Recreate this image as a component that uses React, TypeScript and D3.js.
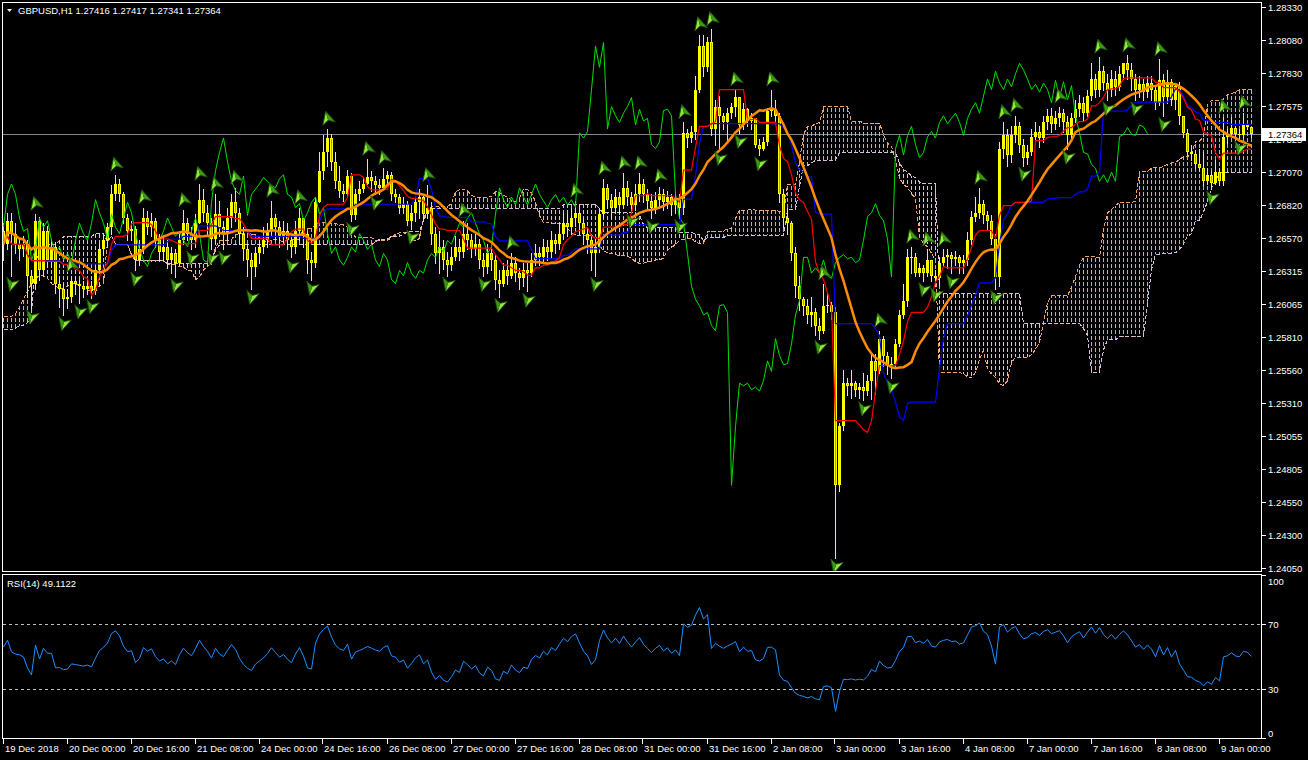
import React from 'react';
import * as d3 from 'd3';

const titleText = 'GBPUSD,H1  1.27416 1.27417 1.27341 1.27364';
const rsiTitle = 'RSI(14) 49.1122';
const lastPrice = 1.27364;
const firstOpen = 1.2662;

// hourly bars, 16 per row (one row per time label)
const closes = [
  1.2652, 1.2670, 1.2660, 1.2652, 1.2648, 1.2652, 1.2628, 1.2622, 1.2670, 1.2632, 1.2662, 1.2640, 1.2650, 1.2622, 1.2618, 1.2610,
  1.2612, 1.2624, 1.2622, 1.2620, 1.2618, 1.2620, 1.2616, 1.2632, 1.2648, 1.2655, 1.2665, 1.2690, 1.2698, 1.2690, 1.2672, 1.2662,
  1.2664, 1.2640, 1.2648, 1.2672, 1.2665, 1.2670, 1.2655, 1.2646, 1.2650, 1.2640, 1.2645, 1.2638, 1.2655, 1.2668, 1.2660, 1.2655,
  1.2668, 1.2686, 1.2676, 1.2668, 1.2656, 1.2675, 1.2665, 1.2660, 1.2672, 1.2684, 1.2676, 1.2660, 1.2648, 1.2640, 1.2635, 1.2645,
  1.2650, 1.2655, 1.2662, 1.2672, 1.2665, 1.2658, 1.2662, 1.2655, 1.2650, 1.2662, 1.2672, 1.2660, 1.2640, 1.2638, 1.2684, 1.2708,
  1.2722, 1.2733, 1.2715, 1.2700, 1.2693, 1.2690, 1.2704, 1.2674, 1.2690, 1.2694, 1.2698, 1.2703, 1.2700, 1.2697, 1.2695, 1.2702,
  1.2705, 1.2690, 1.2688, 1.2680, 1.2683, 1.2670, 1.2676, 1.2684, 1.2688, 1.2675, 1.2680, 1.2660, 1.2645, 1.2650, 1.2640, 1.2636,
  1.2642, 1.2650, 1.2646, 1.2660, 1.2655, 1.2648, 1.2652, 1.2640, 1.2635, 1.2645, 1.2640, 1.2625, 1.2622, 1.2632, 1.2628, 1.2638,
  1.2630, 1.2626, 1.2632, 1.2630, 1.2640, 1.2645, 1.2642, 1.2650, 1.2646, 1.2655, 1.2652, 1.2660, 1.2668, 1.2665, 1.2672, 1.2676,
  1.2668, 1.2660, 1.2655, 1.2645, 1.2650, 1.2675, 1.2695, 1.2686, 1.2680, 1.2688, 1.2682, 1.2695, 1.2688, 1.2682, 1.2690, 1.2698,
  1.2690, 1.2685, 1.2680, 1.2686, 1.2690, 1.2684, 1.2688, 1.2682, 1.2686, 1.2680, 1.2737, 1.2733, 1.2738, 1.2770, 1.2803, 1.2787,
  1.2806, 1.2740, 1.2757, 1.2750, 1.2745, 1.2752, 1.2757, 1.2764, 1.2743, 1.2755, 1.2746, 1.2748, 1.2728, 1.2725, 1.2730, 1.2754,
  1.2755, 1.2750, 1.2690, 1.2672, 1.2668, 1.2645, 1.2620, 1.2610, 1.2605, 1.2598, 1.2600, 1.2590, 1.2586, 1.2605, 1.2606, 1.2600,
  1.2468, 1.2513, 1.2546, 1.2544, 1.2546, 1.2541, 1.2543, 1.2540, 1.2548, 1.2563, 1.2555, 1.2580, 1.2567, 1.2560, 1.2561, 1.2576,
  1.2598, 1.2609, 1.2642, 1.2642, 1.2630, 1.2634, 1.2630, 1.2640, 1.2628, 1.2626, 1.2638, 1.2642, 1.2644, 1.2641, 1.2642, 1.2638,
  1.2640, 1.2655, 1.2673, 1.2676, 1.2683, 1.2674, 1.2670, 1.2656, 1.2627, 1.2725, 1.2735, 1.2720, 1.2735, 1.2742, 1.2728, 1.2718,
  1.2722, 1.2734, 1.2738, 1.2733, 1.2745, 1.2750, 1.2744, 1.2748, 1.2752, 1.2745, 1.2735, 1.2748, 1.2755, 1.2760, 1.2752, 1.2765,
  1.2778, 1.2770, 1.2784, 1.2775, 1.2770, 1.2778, 1.2772, 1.2782, 1.2790, 1.2785, 1.2778, 1.2770, 1.2774, 1.2768, 1.2775, 1.2770,
  1.2760, 1.2777, 1.2764, 1.2776, 1.2762, 1.2773, 1.2750, 1.2737, 1.2722, 1.2721, 1.2713, 1.2710, 1.2700, 1.2705, 1.2699, 1.2707,
  1.2700, 1.2734, 1.2736, 1.2741, 1.2736, 1.2735, 1.2743, 1.27416, 1.27364,
];

const highs = [
  1.2668, 1.2676, 1.2676, 1.2668, 1.2656, 1.2658, 1.2655, 1.2632, 1.2675, 1.2673, 1.2668, 1.2666, 1.2656, 1.2654, 1.2628, 1.2622,
  1.2618, 1.2628, 1.2628, 1.2625, 1.2624, 1.2626, 1.2624, 1.2636, 1.2652, 1.2660, 1.2668, 1.2697, 1.2705, 1.2702, 1.2692, 1.2675,
  1.2670, 1.2666, 1.2655, 1.2680, 1.2677, 1.2676, 1.2672, 1.2660, 1.2658, 1.2655, 1.2650, 1.2648, 1.2660, 1.2678, 1.2672, 1.2665,
  1.2675, 1.2698, 1.2694, 1.2682, 1.2672, 1.2690, 1.2685, 1.2670, 1.2680, 1.2690, 1.2695, 1.2680, 1.2665, 1.2652, 1.2645, 1.2650,
  1.2655, 1.2665, 1.2668, 1.2685, 1.2675, 1.2670, 1.2670, 1.2668, 1.2660, 1.2670, 1.2680, 1.2672, 1.2662, 1.2646, 1.2688, 1.2722,
  1.2735, 1.2740, 1.2736, 1.2722, 1.2712, 1.2698, 1.2709, 1.2706, 1.2694, 1.2700, 1.2703, 1.2717, 1.2708, 1.2704, 1.2702, 1.2710,
  1.2708, 1.2707, 1.2694, 1.2690, 1.2688, 1.2685, 1.2682, 1.2688, 1.2694, 1.2690, 1.2697, 1.2684, 1.2665, 1.2662, 1.2655, 1.2646,
  1.2650, 1.2658, 1.2656, 1.2670, 1.2668, 1.2660, 1.2660, 1.2656, 1.2645, 1.2652, 1.2650, 1.2644, 1.2632, 1.2638, 1.2640, 1.2645,
  1.2642, 1.2634, 1.2638, 1.2638, 1.2645, 1.2652, 1.2650, 1.2656, 1.2655, 1.2662, 1.2660, 1.2668, 1.2675, 1.2675, 1.2680, 1.2685,
  1.2682, 1.2672, 1.2665, 1.2660, 1.2656, 1.2680, 1.2702, 1.2698, 1.2690, 1.2694, 1.2692, 1.2706, 1.2700, 1.2692, 1.2698, 1.2706,
  1.2702, 1.2694, 1.2690, 1.2692, 1.2696, 1.2694, 1.2693, 1.2690, 1.2692, 1.2690, 1.2745, 1.2740, 1.2742, 1.2780, 1.2812, 1.2812,
  1.2810, 1.2816, 1.2762, 1.2765, 1.2752, 1.2756, 1.2760, 1.2770, 1.2762, 1.2760, 1.2756, 1.2752, 1.2745, 1.2732, 1.2734, 1.2756,
  1.2770, 1.2762, 1.2752, 1.2694, 1.2680, 1.2670, 1.2650, 1.2628, 1.2612, 1.2610, 1.2612, 1.2603, 1.2596, 1.2622, 1.2615, 1.2608,
  1.2604, 1.2516, 1.2556, 1.2550, 1.2556, 1.2548, 1.2546, 1.2554, 1.2552, 1.2570, 1.2568, 1.2586, 1.2582, 1.2570, 1.2566, 1.2580,
  1.2602, 1.2622, 1.2648, 1.2650, 1.2645, 1.2638, 1.2636, 1.2648, 1.2636, 1.2632, 1.2642, 1.2648, 1.2648, 1.2646, 1.2647, 1.2644,
  1.2644, 1.2661, 1.2677, 1.2688, 1.2695, 1.2686, 1.2677, 1.2674, 1.2660, 1.2730, 1.2745, 1.2740, 1.2742, 1.2750, 1.2745, 1.2732,
  1.2728, 1.2740, 1.2745, 1.2742, 1.2750, 1.2755, 1.2756, 1.2754, 1.2757, 1.2755, 1.2750, 1.2752, 1.2762, 1.2766, 1.2764, 1.2770,
  1.2790, 1.2782, 1.2795, 1.2788, 1.2782, 1.2785, 1.2784, 1.2788, 1.2790, 1.2796, 1.2790, 1.2782, 1.2780, 1.2778, 1.2780, 1.2780,
  1.2772, 1.2793, 1.2782, 1.2785, 1.2778, 1.2775, 1.2776, 1.2750, 1.2740, 1.2728, 1.2724, 1.2725, 1.2722, 1.2710, 1.2708, 1.2716,
  1.2710, 1.2749, 1.2740, 1.2749, 1.2742, 1.2740, 1.2752, 1.2744, 1.27417,
];

const lows = [
  1.2640, 1.2648, 1.2628, 1.2645, 1.2640, 1.2643, 1.2612, 1.2603, 1.2618, 1.2625, 1.2628, 1.2635, 1.2635, 1.2615, 1.2604, 1.2598,
  1.2603, 1.2608, 1.2614, 1.2607, 1.2612, 1.2614, 1.2611, 1.2614, 1.2630, 1.2644, 1.2650, 1.2660, 1.2686, 1.2685, 1.2668, 1.2655,
  1.2655, 1.2632, 1.2636, 1.2645, 1.2660, 1.2658, 1.2650, 1.2640, 1.2640, 1.2634, 1.2630, 1.2627, 1.2636, 1.2652, 1.2655, 1.2648,
  1.2650, 1.2668, 1.2670, 1.2660, 1.2648, 1.2652, 1.2658, 1.2648, 1.2655, 1.2665, 1.2670, 1.2652, 1.2640, 1.2628, 1.2618, 1.2628,
  1.2638, 1.2645, 1.2650, 1.2658, 1.2655, 1.2650, 1.2652, 1.2648, 1.2642, 1.2645, 1.2655, 1.2650, 1.2630, 1.2625, 1.2635, 1.2684,
  1.2702, 1.2712, 1.2709, 1.2695, 1.2688, 1.2685, 1.2688, 1.2670, 1.2671, 1.2686, 1.2692, 1.2698, 1.2693, 1.2690, 1.2690, 1.2695,
  1.2698, 1.2686, 1.2684, 1.2676, 1.2676, 1.2667, 1.2664, 1.2670, 1.2672, 1.2670, 1.2672, 1.2652, 1.2638, 1.2630, 1.2633, 1.2628,
  1.2632, 1.2640, 1.2640, 1.2642, 1.2648, 1.2642, 1.2644, 1.2634, 1.2628, 1.2630, 1.2632, 1.2618, 1.2612, 1.2620, 1.2622, 1.2626,
  1.2624, 1.2618, 1.2620, 1.2616, 1.2628, 1.2636, 1.2636, 1.2638, 1.2640, 1.2642, 1.2645, 1.2648, 1.2656, 1.2658, 1.2660, 1.2666,
  1.2660, 1.2652, 1.2645, 1.2632, 1.2628, 1.2646, 1.2672, 1.2680, 1.2672, 1.2676, 1.2675, 1.2680, 1.2682, 1.2676, 1.2678, 1.2685,
  1.2684, 1.2678, 1.2672, 1.2676, 1.2680, 1.2678, 1.2680, 1.2674, 1.2676, 1.2672, 1.2675, 1.2726, 1.2730, 1.2732, 1.2768, 1.2780,
  1.2784, 1.2735, 1.2728, 1.2724, 1.2740, 1.2730, 1.2748, 1.2750, 1.2737, 1.2740, 1.2742, 1.2740, 1.2726, 1.2720, 1.2724, 1.2728,
  1.2750, 1.2745, 1.2684, 1.2665, 1.2660, 1.2640, 1.2612, 1.2602, 1.2598, 1.2592, 1.2590, 1.2583, 1.2580, 1.2584, 1.2600, 1.2595,
  1.2413, 1.2464, 1.2510, 1.2537, 1.2535, 1.2536, 1.2535, 1.2533, 1.2537, 1.2534, 1.2538, 1.2554, 1.2559, 1.2553, 1.2550, 1.2558,
  1.2574, 1.2596, 1.2605, 1.2630, 1.2628, 1.2628, 1.2624, 1.2628, 1.2624, 1.2620, 1.2622, 1.2636, 1.2634, 1.2630, 1.2636, 1.2630,
  1.2630, 1.2636, 1.2652, 1.2670, 1.2672, 1.2668, 1.2664, 1.2652, 1.2618, 1.2620, 1.2718, 1.2712, 1.2715, 1.2730, 1.2722, 1.2712,
  1.2713, 1.2720, 1.2730, 1.2726, 1.2730, 1.2740, 1.2738, 1.2740, 1.2742, 1.2738, 1.2725, 1.2733, 1.2745, 1.2750, 1.2746, 1.2750,
  1.2762, 1.2764, 1.2765, 1.2770, 1.2762, 1.2765, 1.2766, 1.2770, 1.2778, 1.2778, 1.2770, 1.2762, 1.2764, 1.2762, 1.2764, 1.2762,
  1.2755, 1.2758, 1.2750, 1.2760, 1.2758, 1.2755, 1.2744, 1.2734, 1.2720, 1.2716, 1.2710, 1.2708, 1.2697, 1.2698, 1.2694, 1.2698,
  1.2697, 1.2697, 1.2729, 1.2736, 1.2733, 1.2732, 1.2733, 1.2740, 1.27341,
];

// cloud and RSI values on the first bars (history before the window)
const leadSpanA = [
  1.2597, 1.2597, 1.2597, 1.2599, 1.2604, 1.2610, 1.2616, 1.2622, 1.2626, 1.2628, 1.2628, 1.2626, 1.2622,
  1.2620, 1.2618, 1.2618, 1.2620, 1.2622, 1.2622, 1.2620, 1.2618, 1.2617, 1.2617, 1.2618, 1.2620, 1.2622,
];
const leadSpanB = [
  1.2587, 1.2587, 1.2587, 1.2588, 1.2590, 1.2590, 1.2592, 1.2600, 1.2640, 1.2645, 1.2648, 1.2652, 1.2652,
  1.2652, 1.2655, 1.2658, 1.2658, 1.2658, 1.2658, 1.2658, 1.2658, 1.2658, 1.2658, 1.2660, 1.2660, 1.2660,
];
const leadRsi = [55.8, 60, 52.8, 51.5, 51, 49.7, 43, 38.7, 57, 48.5, 55, 52, 52, 43];

const priceLabels = [
  '1.28330', '1.28080', '1.27830', '1.27575', '1.27325', '1.27070', '1.26820', '1.26570', '1.26315',
  '1.26065', '1.25810', '1.25560', '1.25310', '1.25055', '1.24805', '1.24550', '1.24300', '1.24050',
];
const rsiLabels = [100, 70, 30, 0];
const rsiLevels = [70, 30];
const timeLabels = [
  '19 Dec 2018', '20 Dec 00:00', '20 Dec 16:00', '21 Dec 08:00', '24 Dec 00:00', '24 Dec 16:00', '26 Dec 08:00',
  '27 Dec 00:00', '27 Dec 16:00', '28 Dec 08:00', '31 Dec 00:00', '31 Dec 16:00', '2 Jan 08:00', '3 Jan 00:00',
  '3 Jan 16:00', '4 Jan 08:00', '7 Jan 00:00', '7 Jan 16:00', '8 Jan 08:00', '9 Jan 00:00',
];

const W = 1308;
const H = 760;
const n = closes.length;

const x = d3.scaleLinear().domain([0, n - 1]).range([3.5, 3.5 + 4 * (n - 1)]);
const y = d3.scaleLinear().domain([1.2405, 1.2833]).range([568, 7]);
const yr = d3.scaleLinear().domain([0, 100]).range([738, 575]);

const opens = closes.map((c, i) => (i === 0 ? firstOpen : closes[i - 1]));

function midRange(i: number, len: number) {
  const s = Math.max(0, i - len + 1);
  return ((d3.max(highs.slice(s, i + 1)) as number) + (d3.min(lows.slice(s, i + 1)) as number)) / 2;
}

const tenkan = closes.map((_, i) => midRange(i, 9));
const kijun = closes.map((_, i) => midRange(i, 26));
const spanA = closes.map((_, i) => (i < 26 ? leadSpanA[i] : (tenkan[i - 26] + kijun[i - 26]) / 2));
const spanB = closes.map((_, i) => (i < 26 ? leadSpanB[i] : midRange(i - 26, 52)));
const chikou = closes.map((_, i) => (i + 26 < n ? closes[i + 26] : null));
const ma = closes.map((_, i) => d3.mean(closes.slice(Math.max(0, i - 19), i + 1)) as number);

// RSI(14), Wilder smoothing
const rsi: number[] = [];
let avgGain = 0;
let avgLoss = 0;
for (let i = 1; i <= 14; i++) {
  const d = closes[i] - closes[i - 1];
  avgGain += Math.max(d, 0);
  avgLoss += Math.max(-d, 0);
}
avgGain /= 14;
avgLoss /= 14;
for (let i = 0; i < n; i++) {
  if (i < 14) {
    rsi.push(leadRsi[i]);
    continue;
  }
  if (i > 14) {
    const d = closes[i] - closes[i - 1];
    avgGain = (avgGain * 13 + Math.max(d, 0)) / 14;
    avgLoss = (avgLoss * 13 + Math.max(-d, 0)) / 14;
  }
  rsi.push(avgLoss === 0 ? 100 : 100 - 100 / (1 + avgGain / avgLoss));
}

// Bill Williams fractals
const upFractals: number[] = [];
const downFractals: number[] = [];
for (let i = 2; i < n - 2; i++) {
  const h = highs[i];
  if (h > highs[i - 1] && h > highs[i - 2] && h >= highs[i + 1] && h >= highs[i + 2]) upFractals.push(i);
  const l = lows[i];
  if (l < lows[i - 1] && l < lows[i - 2] && l <= lows[i + 1] && l <= lows[i + 2]) downFractals.push(i);
}

const priceLine = d3
  .line<[number, number | null]>()
  .defined((d) => d[1] != null)
  .x((d) => x(d[0]))
  .y((d) => y(d[1] as number));
const rsiLine = d3
  .line<number>()
  .x((_, i) => x(i))
  .y((d) => yr(d));
const path = (arr: (number | null)[]) => priceLine(arr.map((v, i) => [i, v] as [number, number | null])) || '';

const SANDY = '#F4A460';
const THISTLE = '#D8BFD8';

function Fractal({ cx, cy, up }: { cx: number; cy: number; up: boolean }) {
  return (
    <g transform={`translate(${cx},${cy}) rotate(${up ? -15 : 195})`}>
      <path d="M0,-7 L0,2.5 L-6.5,6 Z" fill="#8FE83C" />
      <path d="M0,-7 L6.5,6 L0,2.5 Z" fill="#3C9A14" />
      <path d="M0,-7 L6.5,6 L0,2.5 L-6.5,6 Z" fill="none" stroke="#1C4A08" strokeWidth={0.8} />
    </g>
  );
}

export default function App() {
  const lastY = Math.round(y(lastPrice)) + 0.5;
  return (
    <svg
      width={W}
      height={H}
      style={{ position: 'absolute', left: 0, top: 0, display: 'block' }}
      fontFamily="'Liberation Sans', Arial, sans-serif"
      fontSize={9.5}
    >
      <defs>
        <clipPath id="mainClip">
          <rect x={3} y={3} width={1258} height={568} />
        </clipPath>
        <clipPath id="rsiClip">
          <rect x={3} y={575} width={1258} height={163} />
        </clipPath>
        <pattern id="hatchSandy" width={4} height={6} patternUnits="userSpaceOnUse">
          <rect width={4} height={4} fill={SANDY} />
        </pattern>
        <pattern id="hatchThistle" width={4} height={6} patternUnits="userSpaceOnUse">
          <rect width={4} height={4} fill={THISTLE} />
        </pattern>
      </defs>
      <rect width={W} height={H} fill="#000" />

      {/* main panel */}
      <g clipPath="url(#mainClip)">
        <line x1={3} x2={1261} y1={lastY} y2={lastY} stroke="#778899" strokeWidth={1} />

        {/* Ichimoku cloud */}
        {closes.map((_, i) => {
          const a = spanA[i];
          const b = spanB[i];
          const top = Math.round(y(Math.max(a, b)));
          const bot = Math.round(y(Math.min(a, b)));
          return (
            <rect
              key={`k${i}`}
              x={x(i) - 0.5}
              y={top}
              width={1}
              height={Math.max(1, bot - top)}
              fill={a >= b ? 'url(#hatchSandy)' : 'url(#hatchThistle)'}
            />
          );
        })}
        <path d={path(spanA)} fill="none" stroke={SANDY} strokeDasharray="4,2" shapeRendering="crispEdges" />
        <path d={path(spanB)} fill="none" stroke={THISTLE} strokeDasharray="4,2" shapeRendering="crispEdges" />

        {/* candles */}
        {closes.map((c, i) => {
          const o = opens[i];
          const cx = x(i);
          const hi = Math.max(highs[i], o, c);
          const lo = Math.min(lows[i], o, c);
          const top = Math.round(y(Math.max(o, c)));
          const bot = Math.round(y(Math.min(o, c)));
          const h = Math.max(1, bot - top);
          const bear = c < o;
          return (
            <g key={`c${i}`} shapeRendering="crispEdges">
              <line x1={cx} x2={cx} y1={Math.round(y(hi))} y2={Math.round(y(lo)) + 1} stroke="#FFFF00" />
              <rect x={cx - 1.5} y={top} width={3} height={h} fill="#FFFF00" />
              {bear && h > 2 && <rect x={cx - 0.5} y={top + 1} width={1} height={h - 2} fill="#E8820C" />}
            </g>
          );
        })}

        {/* Ichimoku lines and moving average */}
        <path d={path(chikou)} fill="none" stroke="#00E000" strokeWidth={1} />
        <path d={path(kijun)} fill="none" stroke="#0000FF" strokeWidth={1.2} />
        <path d={path(tenkan)} fill="none" stroke="#FF0000" strokeWidth={1.2} />
        <path d={path(ma)} fill="none" stroke="#FF8C00" strokeWidth={2.5} />

        {upFractals.map((i) => (
          <Fractal key={`u${i}`} cx={x(i)} cy={y(highs[i]) - 11} up />
        ))}
        {downFractals.map((i) => (
          <Fractal key={`d${i}`} cx={x(i)} cy={y(lows[i]) + 9} up={false} />
        ))}
      </g>

      <g fill="none" stroke="#FFFFFF" shapeRendering="crispEdges">
        <rect x={2.5} y={2.5} width={1259} height={569} />
        <rect x={2.5} y={574.5} width={1259} height={164} />
      </g>

      <path d="M7,9 L12,9 L9.5,12 Z" fill="#FFFFFF" />
      <text x={18} y={14} fill="#FFFFFF">
        {titleText}
      </text>

      {/* price axis */}
      {priceLabels.map((s) => {
        const yy = Math.round(y(+s)) + 0.5;
        return (
          <g key={s}>
            <line x1={1262} x2={1266} y1={yy} y2={yy} stroke="#FFFFFF" shapeRendering="crispEdges" />
            <text x={1268} y={yy + 3.5} fill="#FFFFFF">
              {s}
            </text>
          </g>
        );
      })}
      <line x1={1262} x2={1266} y1={lastY} y2={lastY} stroke="#778899" />
      <rect x={1262} y={lastY - 6.5} width={44} height={13} fill="#FFFFFF" />
      <text x={1268} y={lastY + 3.5} fill="#000000">
        {lastPrice.toFixed(5)}
      </text>

      {/* RSI panel */}
      <g clipPath="url(#rsiClip)">
        {rsiLevels.map((v) => (
          <line
            key={v}
            x1={3}
            x2={1261}
            y1={Math.round(yr(v)) + 0.5}
            y2={Math.round(yr(v)) + 0.5}
            stroke="#C0C0C0"
            strokeDasharray="3,3"
            shapeRendering="crispEdges"
          />
        ))}
        <path d={rsiLine(rsi) || ''} fill="none" stroke="#1E90FF" strokeWidth={1} />
      </g>
      <text x={7} y={587} fill="#FFFFFF">
        {rsiTitle}
      </text>
      {rsiLabels.map((v) => {
        const yy = Math.round(yr(v)) + 0.5;
        const ty = Math.min(Math.max(yy, 581), 733);
        return (
          <g key={`r${v}`}>
            <line x1={1262} x2={1266} y1={yy} y2={yy} stroke="#FFFFFF" shapeRendering="crispEdges" />
            <text x={1268} y={ty + 3.5} fill="#FFFFFF">
              {v}
            </text>
          </g>
        );
      })}

      {/* time axis */}
      {timeLabels.map((s, k) => {
        const xx = Math.round(x(k * 16)) - 0.5;
        return (
          <g key={s}>
            <line x1={xx} x2={xx} y1={739} y2={744} stroke="#FFFFFF" shapeRendering="crispEdges" />
            <text x={xx + 1.5} y={752} fill="#FFFFFF">
              {s}
            </text>
          </g>
        );
      })}
    </svg>
  );
}
